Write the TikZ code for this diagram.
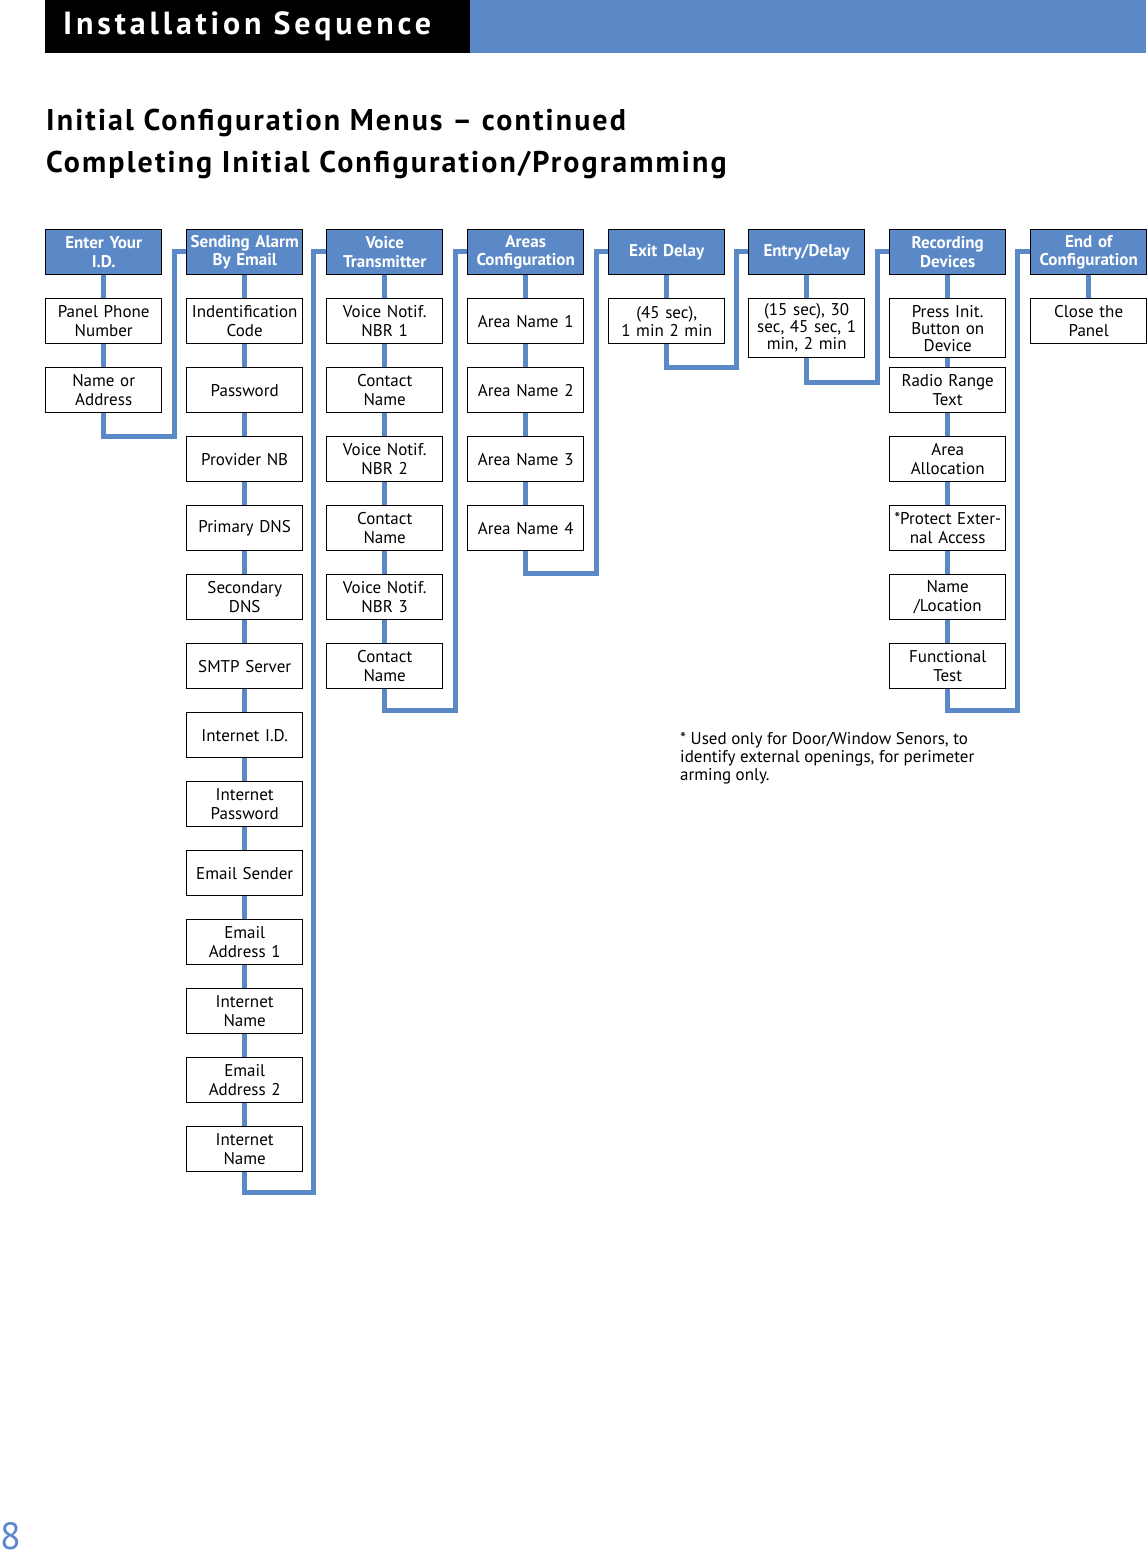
\documentclass[tikz,border=0pt]{standalone}
\usepackage{fontspec}
\setmainfont{PT Sans}
\definecolor{bl}{HTML}{5B88C6}
\begin{document}
\begin{tikzpicture}[x=1pt,y=-1pt,
  bx/.style={draw,line width=1.4pt,fill=white,minimum width=116pt,minimum height=45pt,inner sep=1pt,align=center,font=\fontsize{17}{18.5}\selectfont,anchor=north west,text width=114pt},
  hd/.style={bx,fill=bl,text=white,font=\fontsize{17}{18.5}\selectfont\bfseries},
  ln/.style={bl,line width=5pt}]
\useasboundingbox (0,0) rectangle (1146,1558);
\fill (45,0) rectangle (470,53);
\fill[bl] (470,0) rectangle (1146,53);
\node[anchor=west,text=white,font=\fontsize{32}{32}\selectfont\bfseries,inner sep=0] (ttl) at (63,26) {\addfontfeature{LetterSpace=12}Installation Sequence};
\node[anchor=west,font=\fontsize{30}{30}\selectfont\bfseries,inner sep=0] (s1) at (46,123) {\addfontfeature{LetterSpace=7}Initial Configuration Menus -- continued};
\node[anchor=west,font=\fontsize{30}{30}\selectfont\bfseries,inner sep=0] (s2) at (46,165) {\addfontfeature{LetterSpace=7}Completing Initial Configuration/Programming};
\node[anchor=south west,text=bl,font=\fontsize{38}{38}\selectfont,inner sep=0] (pg) at (0,1550) {8};
\node[anchor=north west,align=left,font=\fontsize{17}{18}\selectfont,inner sep=0] (fn) at (680,732) {* Used only for Door/Window Senors, to\\identify external openings, for perimeter\\arming only.};
\def\mycol#1#2#3{%
 \foreach \t [count=\i from 0] in {#3} {
   \ifnum\i=0 \node[hd] (c#1-\i) at (#2,229) {\t};
   \else \node[bx] (c#1-\i) at (#2,{229+69*\i}) {\t}; \fi }}
\newcommand\myvl[2]{\draw[ln] ({#1+58},229) -- ({#1+58},#2);}
\newcommand\myloop[4]{\draw[ln] ({#1+58},#2) -- ({#1+58},#3) -- (#4,#3) -- (#4,251.5) -- ({#4+13},251.5);}
\myvl{45}{412}\myloop{45}{412}{436}{174}
\myvl{186}{1169}\myloop{186}{1169}{1192}{313}
\myvl{326}{688}\myloop{326}{688}{710}{455}
\myvl{467}{550}\myloop{467}{550}{573}{596}
\myvl{608}{343}\myloop{608}{343}{367}{736}
\myvl{748}{357}\myloop{748}{357}{382}{877}
\myvl{889}{688}\myloop{889}{688}{710}{1017}
\myvl{1030}{300}
\mycol{1}{45}{{Enter Your\\I.D.},{Panel Phone\\Number},{Name or\\Address}}
\mycol{2}{186}{{Sending Alarm\\By Email},{Indentification\\Code},Password,Provider NB,Primary DNS,{Secondary\\DNS},SMTP Server,Internet I.D.,{Internet\\Password},Email Sender,{Email\\Address 1},{Internet\\Name},{Email\\Address 2},{Internet\\Name}}
\mycol{3}{326}{{Voice\\Transmitter},{Voice Notif.\\NBR 1},{Contact\\Name},{Voice Notif.\\NBR 2},{Contact\\Name},{Voice Notif.\\NBR 3},{Contact\\Name}}
\mycol{4}{467}{{Areas\\Configuration},Area Name 1,Area Name 2,Area Name 3,Area Name 4}
\node[hd] (c5-0) at (608,229) {Exit Delay};
\node[bx] (c5-1) at (608,298) {(45 sec),\\1 min 2 min};
\node[hd] (c6-0) at (748,229) {Entry/Delay};
\node[bx,minimum height=59pt,font=\fontsize{17}{17}\selectfont] (c6-1) at (748,298) {(15 sec), 30\\sec, 45 sec, 1\\min, 2 min};
\node[hd] (c7-0) at (889,229) {Recording\\Devices};
\node[bx,minimum height=59pt,font=\fontsize{17}{17}\selectfont] (c7-1) at (889,298) {Press Init.\\Button on\\Device};
\node[bx] (c7-2) at (889,367) {Radio Range\\Text};
\node[bx] (c7-3) at (889,436) {Area\\Allocation};
\node[bx] (c7-4) at (889,505) {*Protect Exter-\\nal Access};
\node[bx] (c7-5) at (889,574) {Name\\/Location};
\node[bx] (c7-6) at (889,643) {Functional\\Test};
\node[hd] (c8-0) at (1030,229) {End of\\Configuration};
\node[bx] (c8-1) at (1030,298) {Close the\\Panel};
\end{tikzpicture}
\end{document}
